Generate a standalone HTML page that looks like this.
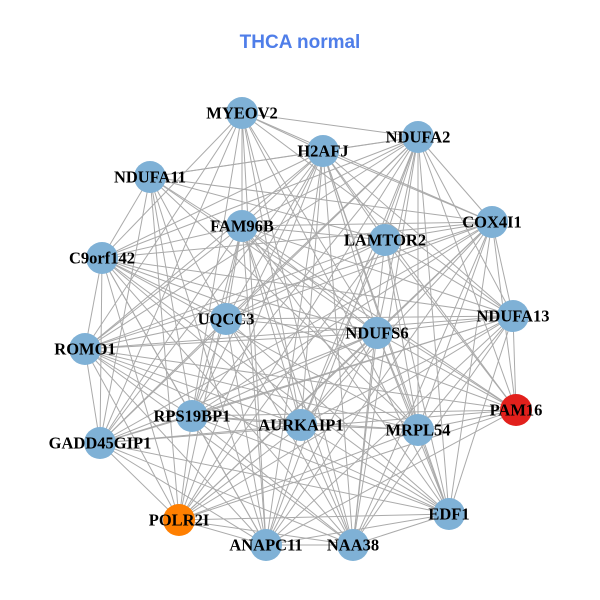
<!DOCTYPE html>
<html><head><meta charset="utf-8"><style>
html,body{margin:0;padding:0;background:#fff;width:600px;height:600px;overflow:hidden}
svg text.l{font-family:"Liberation Serif",serif;font-weight:bold;font-size:16.5px;fill:#000;text-anchor:middle;dominant-baseline:central}
</style></head><body>
<svg id="s" width="600" height="600" xmlns="http://www.w3.org/2000/svg">
<text x="300" y="48" text-anchor="middle" font-family="Liberation Sans, sans-serif" font-weight="bold" font-size="19" fill="#4f7ee9">THCA normal</text>
<g id="e" stroke="#aaaaaa" stroke-width="1"></g>
<g id="n"></g>
<g id="t"></g>
</svg>
<script>
var N=[["MYEOV2",242,113],["H2AFJ",323,151],["NDUFA2",418,137],["NDUFA11",150,177],["COX4I1",492,222],["FAM96B",242,226],["LAMTOR2",385,240],["C9orf142",102,258],["NDUFA13",513,316],["UQCC3",226,319],["NDUFS6",377,333],["ROMO1",85,349],["PAM16",516,410,"#e2201c"],["RPS19BP1",192,416],["AURKAIP1",301,425],["MRPL54",418,430],["GADD45GIP1",100,443],["EDF1",449,514],["POLR2I",179,520,"#ff7f00"],["ANAPC11",266,545],["NAA38",353,545]];
var ns="http://www.w3.org/2000/svg",e=document.getElementById("e"),n=document.getElementById("n"),t=document.getElementById("t");
for(var i=0;i<N.length;i++)for(var j=i+1;j<N.length;j++){if((i*7+j*3)%9==0)continue;var l=document.createElementNS(ns,"line");l.setAttribute("x1",N[i][1]);l.setAttribute("y1",N[i][2]);l.setAttribute("x2",N[j][1]);l.setAttribute("y2",N[j][2]);e.appendChild(l);}
N.forEach(function(d){var c=document.createElementNS(ns,"circle");c.setAttribute("cx",d[1]);c.setAttribute("cy",d[2]);c.setAttribute("r",16);c.setAttribute("fill",d[3]||"#7fb1d6");n.appendChild(c);var x=document.createElementNS(ns,"text");x.setAttribute("class","l");x.setAttribute("x",d[1]);x.setAttribute("y",d[2]);x.textContent=d[0];t.appendChild(x);});
</script>
</body></html>
